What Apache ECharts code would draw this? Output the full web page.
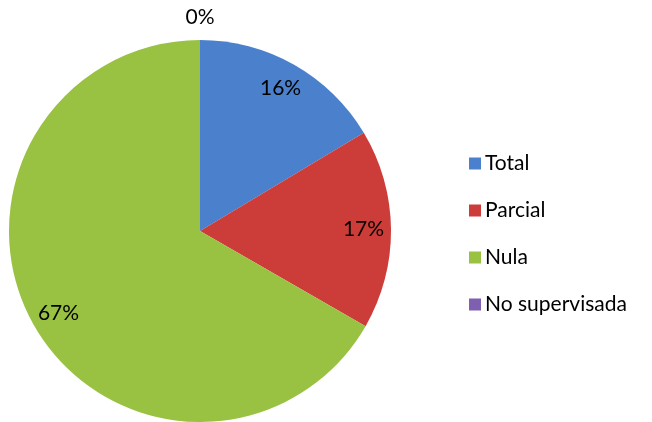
<!DOCTYPE html>
<html>
<head>
<meta charset="utf-8">
<script src="https://cdn.jsdelivr.net/npm/echarts@6/dist/echarts.min.js"></script>
<style>
  html, body { margin: 0; padding: 0; background: #fff; }
  #chart { width: 652px; height: 422px; }
</style>
</head>
<body>
<div id="chart"></div>
<script>
var categories = ['Total', 'Parcial', 'Nula', 'No supervisada']
var values = [16.4, 16.9, 66.7, 0]
var colors = ['#4a80cc', '#cc3c38', '#99c142', '#7e5fb0']

var chart = echarts.init(document.getElementById('chart'))

function pct (p) { return Math.round(p.percent) + '%' }

var pieData = categories.map(function (name, i) {
  return { name: name, value: values[i], itemStyle: { color: colors[i] } }
})

// transparent rings on top of the pie, only used to place the percent labels
var labelData = categories.map(function (name, i) {
  return { name: name, value: values[i], label: { show: values[i] !== 0 } }
})
var zeroLabelData = categories.map(function (name, i) {
  return { name: name, value: values[i], label: { show: values[i] === 0 } }
})

var labelStyle = {
  position: 'inside',
  color: '#000',
  fontSize: 21,
  fontFamily: 'Lato',
  formatter: pct
}

chart.setOption({
  backgroundColor: '#fff',
  textStyle: { fontFamily: 'Lato' },
  legend: {
    orient: 'vertical',
    left: 464,
    top: 148,
    icon: 'rect',
    itemWidth: 12,
    itemHeight: 12,
    itemGap: 26,
    selectedMode: false,
    textStyle: { color: '#000', fontSize: 21, fontFamily: 'Lato', padding: [0, 0, 0, -1] },
    data: categories.map(function (name, i) {
      return { name: name, itemStyle: { color: colors[i] } }
    })
  },
  series: [
    {
      name: 'pie',
      type: 'pie',
      center: [200, 231],
      radius: [0, 191],
      startAngle: 90,
      silent: true,
      label: { show: false },
      labelLine: { show: false },
      data: pieData
    },
    {
      name: 'labels',
      type: 'pie',
      center: [200, 231],
      radius: [130, 191],
      startAngle: 90,
      silent: true,
      itemStyle: { color: 'rgba(0,0,0,0)' },
      label: labelStyle,
      labelLine: { show: false },
      data: labelData
    },
    {
      name: 'zeroLabels',
      type: 'pie',
      center: [200, 231],
      radius: [201, 221],
      startAngle: 90,
      silent: true,
      itemStyle: { color: 'rgba(0,0,0,0)' },
      label: labelStyle,
      labelLine: { show: false },
      data: zeroLabelData
    }
  ]
})
</script>
</body>
</html>
